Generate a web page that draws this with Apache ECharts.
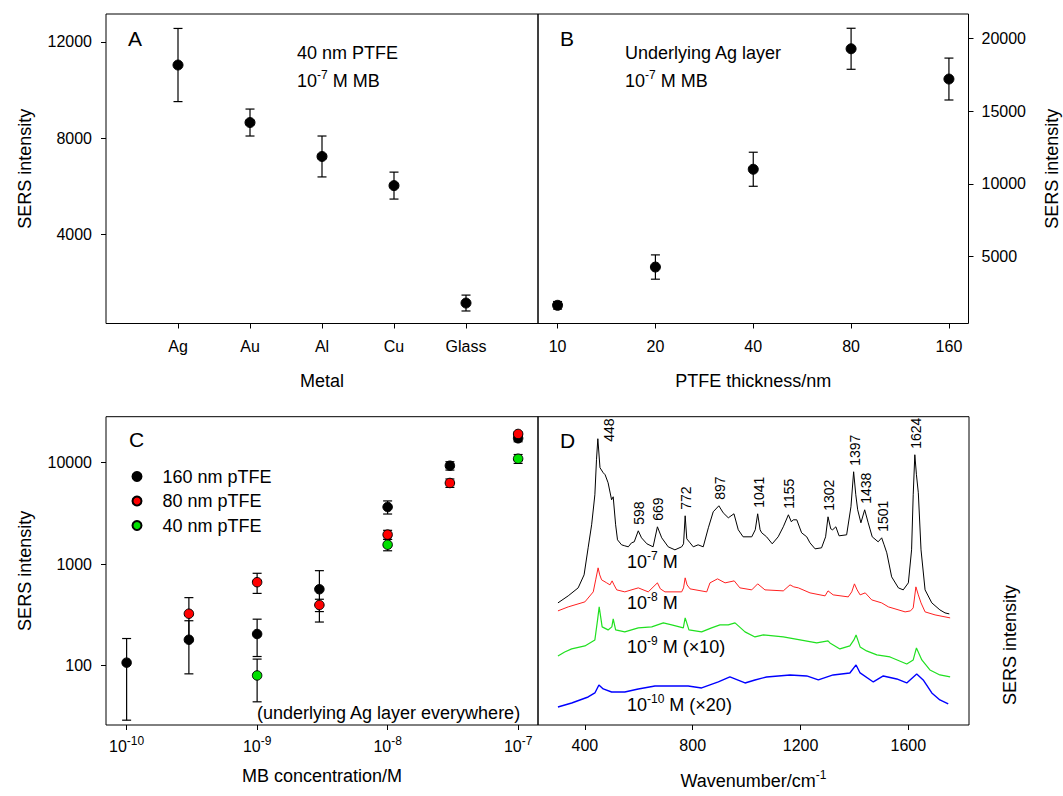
<!DOCTYPE html>
<html><head><meta charset="utf-8">
<script src="https://cdn.jsdelivr.net/npm/echarts@6/dist/echarts.min.js"></script>
<style>html,body{margin:0;padding:0;background:#fff}#c{width:1063px;height:796px}</style>
</head><body><div id="c"></div>
<script>
// ---------- Panel A ----------
const metals = ['Ag', 'Au', 'Al', 'Cu', 'Glass'];
const metalMean = [11040, 8650, 7240, 6030, 1150];
const metalErr = [1520, 560, 850, 560, 330];
const metalTicks = [4000, 8000, 12000];
// ---------- Panel B ----------
const thickness = ['10', '20', '40', '80', '160'];
const thickMean = [1650, 4280, 11000, 19280, 17200];
const thickErr = [260, 835, 1170, 1410, 1440];
const thickTicks = [5000, 10000, 15000, 20000];
// ---------- Panel C ----------
const conc = [1e-10, 3e-10, 1e-9, 3e-9, 1e-8, 3e-8, 1e-7];
const mb160 = [107, 180, 205, 566, 3660, 9340, 17400];
const mb160Err = [78, 97, 82, 297, 540, 880, 1320];
const mb80 = [null, 325, 664, 396, 1955, 6310, 19200];
const mb80Err = [null, 143, 149, 55, 200, 600, 800];
const mb40 = [null, null, 80, null, 1555, null, 10940];
const mb40Err = [null, null, 36, null, 200, null, 1100];
const concTicks = [1e-10, 1e-9, 1e-8, 1e-7];
const intensityTicksC = [100, 1000, 10000];
// ---------- Panel D (wavenumber, arbitrary intensity) ----------
const spec7 = [[300,122],[338,129],[375,137],[397,150],[412,177],[425,200],[437,230],[443,265],[448,286],[456,257],[468,252],[475,250],[486,242],[499,225],[505,228],[514,200],[521,185],[536,180],[548,179],[561,178],[573,182],[583,183],[598,194],[610,187],[630,181],[653,178],[669,198],[685,187],[709,178],[734,175],[759,178],[766,181],[772,209],[778,186],[790,182],[802,178],[820,180],[839,178],[858,197],[876,213],[897,219],[913,212],[932,207],[953,211],[969,195],[987,188],[1019,188],[1032,195],[1041,211],[1050,195],[1056,192],[1074,188],[1095,181],[1117,188],[1136,198],[1155,210],[1166,203],[1173,205],[1186,205],[1204,192],[1223,188],[1235,182],[1254,176],[1278,177],[1293,188],[1302,208],[1312,196],[1319,195],[1331,198],[1343,189],[1371,190],[1387,218],[1397,253],[1405,230],[1412,215],[1424,202],[1438,215],[1451,202],[1466,188],[1488,183],[1501,187],[1510,180],[1520,172],[1538,148],[1563,137],[1581,135],[1600,142],[1612,175],[1618,230],[1624,270],[1630,250],[1637,232],[1647,175],[1662,135],[1687,122],[1717,115],[1736,112],[1752,111]];
const spec8 = [[300,114],[338,118],[400,123],[431,133],[440,145],[449,157],[455,150],[462,145],[481,142],[493,140],[501,144],[508,140],[518,135],[548,133],[598,137],[635,133],[669,142],[680,136],[697,133],[759,133],[766,137],[772,147],[779,140],[790,136],[852,133],[864,142],[892,146],[920,142],[954,144],[975,137],[1019,135],[1041,141],[1068,135],[1136,134],[1161,140],[1175,138],[1192,137],[1235,132],[1291,129],[1302,134],[1321,130],[1377,128],[1390,133],[1400,141],[1410,135],[1421,130],[1440,132],[1464,125],[1501,122],[1526,118],[1588,113],[1608,114],[1618,117],[1628,138],[1637,130],[1647,122],[1662,113],[1699,110],[1755,107]];
const spec9 = [[300,69],[325,73],[351,76],[400,79],[437,85],[447,105],[453,118],[464,98],[486,95],[500,98],[505,106],[514,95],[548,93],[598,97],[648,98],[691,102],[722,100],[765,97],[772,107],[786,95],[833,93],[870,97],[901,100],[932,100],[957,102],[994,93],[1031,88],[1062,90],[1136,88],[1198,85],[1260,82],[1302,84],[1309,82],[1346,76],[1383,79],[1398,85],[1406,90],[1421,78],[1445,74],[1483,70],[1532,68],[1594,61],[1618,65],[1630,77],[1650,65],[1680,55],[1717,50],[1755,48]];
const spec10 = [[300,18],[351,22],[412,28],[437,32],[452,40],[468,36],[499,33],[548,33],[598,36],[660,39],[722,39],[783,39],[833,37],[895,43],[938,48],[994,42],[1031,45],[1074,48],[1161,50],[1223,49],[1266,45],[1321,50],[1383,52],[1406,60],[1421,52],[1470,43],[1507,49],[1557,46],[1594,42],[1631,51],[1655,45],[1687,32],[1717,25],[1748,21]];
const wnTicks = [400, 800, 1200, 1600];
const peakWn = [448, 598, 669, 772, 897, 1041, 1155, 1302, 1397, 1438, 1501, 1624];

const FONT = 'Liberation Sans, Arial, sans-serif';
const chart = echarts.init(document.getElementById('c'), null, {renderer: 'svg'});

function errRender(params, api) {
  const x = api.value(0), y = api.value(1), e = api.value(2);
  const hi = api.coord([x, y + e]), lo = api.coord([x, y - e]);
  const w = 4.5;
  const st = {stroke: '#000', lineWidth: 1.2};
  return {type: 'group', children: [
    {type: 'line', shape: {x1: hi[0], y1: hi[1], x2: lo[0], y2: lo[1]}, style: st},
    {type: 'line', shape: {x1: hi[0] - w, y1: hi[1], x2: hi[0] + w, y2: hi[1]}, style: st},
    {type: 'line', shape: {x1: lo[0] - w, y1: lo[1], x2: lo[0] + w, y2: lo[1]}, style: st}
  ]};
}
function pairs(xs, ys, es) {
  const out = [];
  for (let i = 0; i < xs.length; i++) if (ys[i] != null) out.push(es ? [xs[i], ys[i], es[i]] : [xs[i], ys[i]]);
  return out;
}
function peakHeight(wn) {
  let best = 0;
  spec7.forEach(p => { if (Math.abs(p[0] - wn) <= 6 && p[1] > best) best = p[1]; });
  return best;
}
const sup = {fontSize: 12, verticalAlign: 'top', fontFamily: FONT, color: '#000'};
const tickStyle = {show: true, length: 5, lineStyle: {color: '#000', width: 1}};
const lab = {color: '#000', fontSize: 16, fontFamily: FONT};
const nameStyle = {color: '#000', fontSize: 18, fontFamily: FONT};
const noLine = {show: false, onZero: false};

const axisIdx = [1, 2, 3, 4, 5];
const thickIdx = [0, 1, 2, 3, 4];
const dot = (c) => ({color: c, borderColor: '#000', borderWidth: 1, opacity: 1});

const option = {
  animation: false,
  backgroundColor: '#fff',
  grid: [
    {left: 106, top: 14, width: 432, height: 309.5, show: true, borderColor: '#000', borderWidth: 1, outerBoundsMode: 'none'},
    {left: 538, top: 14, width: 430.5, height: 309.5, show: true, borderColor: '#000', borderWidth: 1, outerBoundsMode: 'none'},
    {left: 106, top: 416.7, width: 432, height: 308.3, show: true, borderColor: '#000', borderWidth: 1, outerBoundsMode: 'none'},
    {left: 538, top: 416.7, width: 431, height: 308.3, show: true, borderColor: '#000', borderWidth: 1, outerBoundsMode: 'none'}
  ],
  xAxis: [
    {gridIndex: 0, type: 'value', min: 0, max: 6, splitLine: {show: false}, axisLine: noLine,
     axisTick: Object.assign({customValues: axisIdx}, tickStyle),
     axisLabel: Object.assign({customValues: axisIdx, margin: 15, formatter: v => metals[Math.round(v) - 1] || ''}, lab),
     name: 'Metal', nameLocation: 'middle', nameGap: 48, nameTextStyle: nameStyle},
    {gridIndex: 1, type: 'value', min: -0.2, max: 4.2, splitLine: {show: false}, axisLine: noLine,
     axisTick: Object.assign({customValues: thickIdx}, tickStyle),
     axisLabel: Object.assign({customValues: thickIdx, margin: 15, formatter: v => thickness[Math.round(v)] || ''}, lab),
     name: 'PTFE thickness/nm', nameLocation: 'middle', nameGap: 48, nameTextStyle: nameStyle},
    {gridIndex: 2, type: 'log', logBase: 10, min: 6.95e-11, max: 1.42e-7, splitLine: {show: false}, axisLine: noLine,
     minorTick: {show: false},
     axisTick: Object.assign({customValues: concTicks}, tickStyle),
     axisLabel: Object.assign({customValues: concTicks, margin: 10, lineHeight: 22,
       formatter: v => '10{sup|' + Math.round(Math.log10(v)) + '}', rich: {sup: sup}}, lab),
     name: 'MB concentration/M', nameLocation: 'middle', nameGap: 42, nameTextStyle: nameStyle},
    {gridIndex: 3, type: 'value', min: 226, max: 1825, splitLine: {show: false}, axisLine: noLine,
     axisTick: Object.assign({customValues: wnTicks}, tickStyle),
     axisLabel: Object.assign({customValues: wnTicks, margin: 12, formatter: v => String(v)}, lab),
     name: 'Wavenumber/cm{sup|-1}', nameLocation: 'middle', nameGap: 44,
     nameTextStyle: Object.assign({lineHeight: 24, rich: {sup: sup}}, nameStyle)}
  ],
  yAxis: [
    {gridIndex: 0, type: 'value', min: 300, max: 13160, splitLine: {show: false}, axisLine: noLine,
     axisTick: Object.assign({customValues: metalTicks}, tickStyle),
     axisLabel: Object.assign({customValues: metalTicks, margin: 14, formatter: v => String(v)}, lab),
     name: 'SERS intensity', nameLocation: 'middle', nameGap: 72, nameTextStyle: nameStyle},
    {gridIndex: 1, type: 'value', position: 'right', min: 400, max: 21670, splitLine: {show: false}, axisLine: noLine,
     axisTick: Object.assign({customValues: thickTicks}, tickStyle),
     axisLabel: Object.assign({customValues: thickTicks, margin: 13, formatter: v => String(v)}, lab),
     name: 'SERS intensity', nameLocation: 'middle', nameGap: 74, nameTextStyle: nameStyle},
    {gridIndex: 2, type: 'log', logBase: 10, min: 26, max: 28400, splitLine: {show: false}, axisLine: noLine,
     minorTick: {show: false},
     axisTick: Object.assign({customValues: intensityTicksC}, tickStyle),
     axisLabel: Object.assign({customValues: intensityTicksC, margin: 14, formatter: v => String(Math.round(v))}, lab),
     name: 'SERS intensity', nameLocation: 'middle', nameGap: 72, nameTextStyle: nameStyle},
    {gridIndex: 3, type: 'value', min: 0, max: 308, show: false, axisLine: noLine}
  ],
  legend: {
    orient: 'vertical', left: 126.5, top: 462.5, itemWidth: 9, itemHeight: 9, itemGap: 6.5,
    textStyle: {color: '#000', fontSize: 18, lineHeight: 18, fontFamily: FONT, rich: {gap: {width: 16}}},
    formatter: name => '{gap|}' + name,
    data: ['160 nm pTFE', '80 nm pTFE', '40 nm pTFE'], selectedMode: false
  },
  series: [
    {type: 'custom', xAxisIndex: 0, yAxisIndex: 0, renderItem: errRender, z: 1,
     data: pairs(axisIdx, metalMean, metalErr), encode: {x: 0, y: 1}},
    {type: 'scatter', xAxisIndex: 0, yAxisIndex: 0, symbolSize: 10, z: 3,
     itemStyle: dot('#000'), data: pairs(axisIdx, metalMean)},
    {type: 'custom', xAxisIndex: 1, yAxisIndex: 1, renderItem: errRender, z: 1,
     data: pairs(thickIdx, thickMean, thickErr), encode: {x: 0, y: 1}},
    {type: 'scatter', xAxisIndex: 1, yAxisIndex: 1, symbolSize: 10, z: 3,
     itemStyle: dot('#000'), data: pairs(thickIdx, thickMean)},
    {type: 'custom', name: 'e160', xAxisIndex: 2, yAxisIndex: 2, renderItem: errRender, z: 1,
     data: pairs(conc, mb160, mb160Err), encode: {x: 0, y: 1}},
    {type: 'custom', name: 'e80', xAxisIndex: 2, yAxisIndex: 2, renderItem: errRender, z: 1,
     data: pairs(conc, mb80, mb80Err), encode: {x: 0, y: 1}},
    {type: 'custom', name: 'e40', xAxisIndex: 2, yAxisIndex: 2, renderItem: errRender, z: 1,
     data: pairs(conc, mb40, mb40Err), encode: {x: 0, y: 1}},
    {type: 'scatter', name: '160 nm pTFE', xAxisIndex: 2, yAxisIndex: 2, symbolSize: 9.5, z: 3,
     itemStyle: dot('#000'), data: pairs(conc, mb160)},
    {type: 'scatter', name: '80 nm pTFE', xAxisIndex: 2, yAxisIndex: 2, symbolSize: 9.5, z: 3,
     itemStyle: dot('#ff0000'), data: pairs(conc, mb80)},
    {type: 'scatter', name: '40 nm pTFE', xAxisIndex: 2, yAxisIndex: 2, symbolSize: 9.5, z: 3,
     itemStyle: dot('#00e000'), data: pairs(conc, mb40)},
    {type: 'line', xAxisIndex: 3, yAxisIndex: 3, data: spec7, showSymbol: false, lineStyle: {color: '#000', width: 1}, z: 4},
    {type: 'line', xAxisIndex: 3, yAxisIndex: 3, data: spec8, showSymbol: false, lineStyle: {color: '#ff2020', width: 1}, z: 3},
    {type: 'line', xAxisIndex: 3, yAxisIndex: 3, data: spec9, showSymbol: false, lineStyle: {color: '#20e020', width: 1.2}, z: 3},
    {type: 'line', xAxisIndex: 3, yAxisIndex: 3, data: spec10, showSymbol: false, lineStyle: {color: '#0000ff', width: 1.4}, z: 3},
    {type: 'scatter', xAxisIndex: 3, yAxisIndex: 3, symbolSize: 0, z: 5, itemStyle: {opacity: 1},
     data: peakWn.map((wn, i) => ({value: [wn, peakHeight(wn)], label: {offset: i === 0 ? [-3, 11] : [6, 1]}})),
     label: {show: true, position: 'inside', rotate: 90, align: 'left', verticalAlign: 'middle',
       formatter: p => String(peakWn[p.dataIndex]), color: '#000', fontSize: 14, fontFamily: FONT}}
  ],
  graphic: [
    {type: 'text', x: 128, y: 38.5, style: {text: 'A', fontSize: 21, fontFamily: FONT, fill: '#000', verticalAlign: 'middle'}},
    {type: 'text', x: 560, y: 38.5, style: {text: 'B', fontSize: 21, fontFamily: FONT, fill: '#000', verticalAlign: 'middle'}},
    {type: 'text', x: 129, y: 439.5, style: {text: 'C', fontSize: 21, fontFamily: FONT, fill: '#000', verticalAlign: 'middle'}},
    {type: 'text', x: 560, y: 440, style: {text: 'D', fontSize: 21, fontFamily: FONT, fill: '#000', verticalAlign: 'middle'}},
    {type: 'text', x: 297, y: 53, style: {text: '40 nm PTFE', fontSize: 18, fontFamily: FONT, fill: '#000', verticalAlign: 'middle'}},
    {type: 'text', x: 297, y: 81, style: {text: '10{sup|-7} M MB', fontSize: 18, lineHeight: 24, fontFamily: FONT, fill: '#000', verticalAlign: 'middle', rich: {sup: sup}}},
    {type: 'text', x: 625, y: 53, style: {text: 'Underlying Ag layer', fontSize: 18, fontFamily: FONT, fill: '#000', verticalAlign: 'middle'}},
    {type: 'text', x: 625, y: 81, style: {text: '10{sup|-7} M MB', fontSize: 18, lineHeight: 24, fontFamily: FONT, fill: '#000', verticalAlign: 'middle', rich: {sup: sup}}},
    {type: 'text', x: 257, y: 712.5, style: {text: '(underlying Ag layer everywhere)', fontSize: 18, fontFamily: FONT, fill: '#000', verticalAlign: 'middle'}},
    {type: 'text', x: 627, y: 562, style: {text: '10{sup|-7} M', fontSize: 18, lineHeight: 24, fontFamily: FONT, fill: '#000', verticalAlign: 'middle', rich: {sup: sup}}},
    {type: 'text', x: 627, y: 603, style: {text: '10{sup|-8} M', fontSize: 18, lineHeight: 24, fontFamily: FONT, fill: '#000', verticalAlign: 'middle', rich: {sup: sup}}},
    {type: 'text', x: 627, y: 647, style: {text: '10{sup|-9} M (×10)', fontSize: 18, lineHeight: 24, fontFamily: FONT, fill: '#000', verticalAlign: 'middle', rich: {sup: sup}}},
    {type: 'text', x: 627, y: 705, style: {text: '10{sup|-10} M (×20)', fontSize: 18, lineHeight: 24, fontFamily: FONT, fill: '#000', verticalAlign: 'middle', rich: {sup: sup}}},
    {type: 'text', x: 1010, y: 645, rotation: Math.PI / 2, style: {text: 'SERS intensity', fontSize: 18, fontFamily: FONT, fill: '#000', align: 'center', verticalAlign: 'middle'}}
  ]
};
chart.setOption(option);
</script></body></html>
